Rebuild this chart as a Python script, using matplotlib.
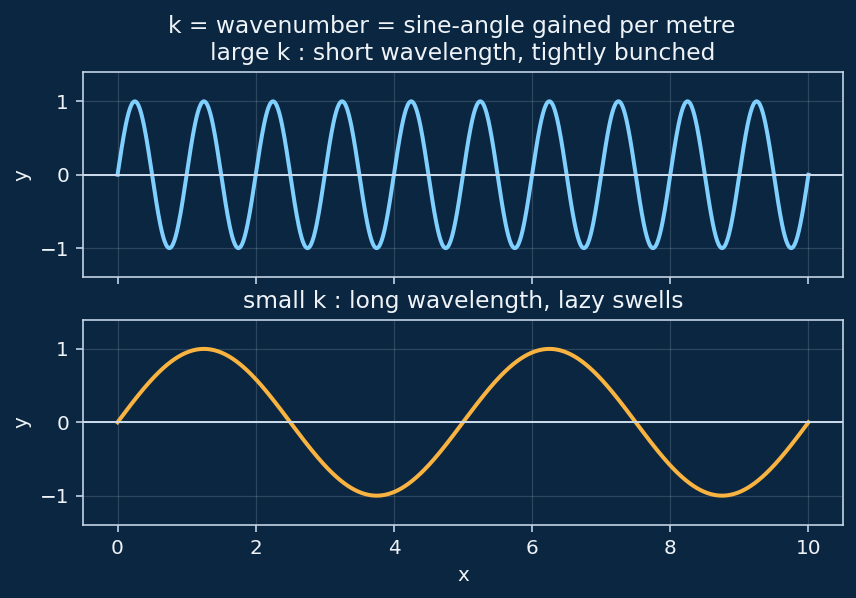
import numpy as np
import matplotlib
matplotlib.use("Agg")
import matplotlib.pyplot as plt

# wave settings: wavenumber k (rad per metre) for each panel
wavenumbers = [2 * np.pi, 2 * np.pi / 5]
panel_titles = [
    "k = wavenumber = sine-angle gained per metre   \nlarge k : short wavelength, tightly bunched",
    "small k : long wavelength, lazy swells",
]
line_colors = ["#7fcfff", "#f9b340"]
x_start, x_end = 0, 10
n_points = 1000

bg = "#0b2640"
fg = "#eef3f8"
spine_col = "#c9d9ea"

x = np.linspace(x_start, x_end, n_points)

fig, axes = plt.subplots(2, 1, sharex=True, figsize=(856 / 144, 598 / 144), dpi=144)
fig.patch.set_facecolor(bg)
fig.subplots_adjust(left=83 / 856, right=843 / 856, top=1 - 72 / 598, bottom=1 - 525 / 598, hspace=0.205)

for ax, k, title, col in zip(axes, wavenumbers, panel_titles, line_colors):
    ax.set_facecolor(bg)
    ax.plot(x, np.sin(k * x), color=col, lw=2)
    ax.axhline(0, color=spine_col, lw=1)
    ax.set_ylim(-1.4, 1.4)
    ax.set_ylabel("y", color=fg)
    ax.set_title(title, color=fg, fontsize=11.7)
    ax.grid(True, color="#c9d9ea", alpha=0.18, lw=0.6)
    ax.tick_params(colors=fg, labelcolor=fg)
    ax.tick_params(axis="both", color=spine_col)
    for s in ax.spines.values():
        s.set_color(spine_col)

axes[1].set_xlabel("x", color=fg)
axes[1].set_xticks([0, 2, 4, 6, 8, 10])
axes[1].set_yticks([-1, 0, 1])
axes[0].set_yticks([-1, 0, 1])

fig.savefig("out.png", dpi=144, facecolor=bg)
